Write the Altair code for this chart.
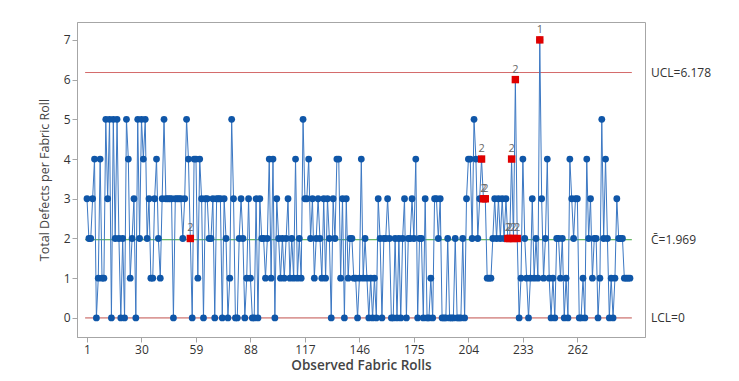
import altair as alt
import pandas as pd

# Defects per roll, rolls 1..290
values = (
    [3, 2, 2, 3, 4, 0, 1, 4, 1, 1, 5, 3, 5, 0, 5, 2, 5, 2, 0, 2, 0]
    + [5, 4, 1, 2, 3, 0, 5, 2, 5, 4, 5, 2, 3, 1, 1, 3, 4, 2, 1, 3, 5, 3, 3, 3, 3, 0]
    + [3, 3, 3, 3, 2, 3, 5, 4, 2]
    + [0, 4, 4, 1, 4, 3, 0, 3, 3, 2, 2, 3, 0, 3, 3, 3, 0]
    + [3, 2, 0, 1, 5, 3, 0, 0, 2, 3, 2, 0, 1, 3, 1, 0, 0, 3, 0, 3, 2, 2, 1, 2, 4]
    + [1, 4, 0, 3, 2, 1, 2, 1, 2, 3, 1, 2, 1, 4, 1, 2, 1, 5, 3, 3, 4, 2, 3, 1, 2, 3]
    + [2, 1, 3, 1, 3, 2, 0, 3, 2, 4, 4, 1, 3, 0, 3, 1, 2, 2, 1, 1, 0, 1, 4, 1, 2]
    + [1, 0, 1, 0, 1, 0, 3, 2, 0, 2, 2, 3, 2, 0, 0, 2, 0, 2, 0, 2, 3, 0, 2, 2]
    + [3, 2, 4, 0, 2, 2, 0, 3, 0, 0, 1, 0, 3, 3, 2, 3, 0, 0, 0, 2, 0, 0, 0, 2, 0]
    + [0, 0, 2, 0, 3, 4, 4, 2, 5, 4, 2, 3, 4, 3, 3, 1, 1]
    + [1, 2, 3, 2, 3, 2, 3, 2, 3, 2, 2, 4, 2, 6, 2, 0, 1, 4, 2, 1, 0, 1, 3, 1, 2, 1, 7, 3, 1, 2, 4, 1, 0]
    + [1, 0, 2, 2, 1, 2, 0, 1, 0, 4, 3, 2, 3, 3, 0, 0, 1, 0, 4, 2, 3, 1, 2, 2, 0, 1, 5]
    + [2, 4, 2, 0, 1, 0, 1, 3, 2, 2, 2, 1, 1, 1, 1]
)
roll = list(range(1, len(values) + 1))

flag_idx = [56, 211, 212, 213, 225, 226, 227, 228, 229, 230, 242]
flag_lbl = ["2", "2", "2", "2", "2", "2", "2", "2", "2", "2", "1"]

limit_names = ["UCL=6.178", "C\u0304=1.969", "LCL=0"]
limit_vals = [6.178, 1.969, 0.0]
limit_colors = ["#D46A6A", "#3DA33D", "#C0504D"]

x_ticks = [1, 30, 59, 88, 117, 146, 175, 204, 233, 262]
y_ticks = [0, 1, 2, 3, 4, 5, 6, 7]

df = pd.DataFrame({"roll": roll, "defects": values})
df_flag = pd.DataFrame({"roll": flag_idx,
                        "defects": [values[i - 1] for i in flag_idx],
                        "lbl": flag_lbl})
n = len(values)
df_lim = pd.DataFrame({"x0": [0] * 3, "x1": [n + 1] * 3, "val": limit_vals,
                       "name": limit_names, "col": limit_colors})

FONT = "Open Sans"
xscale = alt.Scale(domain=[-4.32, 298.0], nice=False, zero=False)
yscale = alt.Scale(domain=[-0.48, 7.45], nice=False, zero=False)


def X(field):
    return alt.X(field, type="quantitative", scale=xscale,
                 axis=alt.Axis(values=x_ticks, title="Observed Fabric Rolls",
                               grid=False, titlePadding=3, titleFontWeight=600,
                               titleFontSize=13.5))


def Y(field):
    return alt.Y(field, type="quantitative", scale=yscale,
                 axis=alt.Axis(values=y_ticks, title="Total Defects per Fabric Roll",
                               grid=False, titlePadding=12, titleFontWeight="normal",
                               titleFontSize=12.5))


limits = alt.Chart(df_lim).mark_rule(strokeWidth=1).encode(
    x=X("x0"), x2="x1", y=Y("val"), color=alt.Color("col:N", scale=None)
)

line = alt.Chart(df).mark_line(color="#3C78C3", strokeWidth=1).encode(
    x=X("roll"), y=Y("defects")
)

pts = alt.Chart(df).mark_point(shape="circle", filled=True, color="#0F56A8",
                               size=46, opacity=1).encode(
    x=X("roll"), y=Y("defects")
)

flags = alt.Chart(df_flag).mark_point(shape="square", filled=True, color="#E00000",
                                      size=55, opacity=1).encode(
    x=X("roll"), y=Y("defects")
)

flag_txt = alt.Chart(df_flag).mark_text(dy=-10, color="#666666", fontSize=11,
                                        font=FONT).encode(
    x=X("roll"), y=Y("defects"), text="lbl:N"
)

lim_txt = alt.Chart(df_lim).mark_text(align="left", baseline="middle", fontSize=12,
                                      color="#333333", font=FONT).encode(
    x=alt.value(574), y=Y("val"), text="name:N"
)

chart = alt.layer(limits, line, pts, flags, flag_txt, lim_txt).properties(
    width=568, height=315,
    autosize=alt.AutoSizeParams(type="none"),
    padding={"left": 69, "top": 14, "right": 80, "bottom": 40},
).configure_view(stroke="#A6A6A6", strokeWidth=1).configure_axis(
    labelFont=FONT, titleFont=FONT, labelFontSize=12,
    labelColor="#333333", titleColor="#444444",
    domainColor="#A6A6A6", tickColor="#A6A6A6", tickSize=5,
)

chart.save("out.html", embed_options={"renderer": "svg", "actions": False})
